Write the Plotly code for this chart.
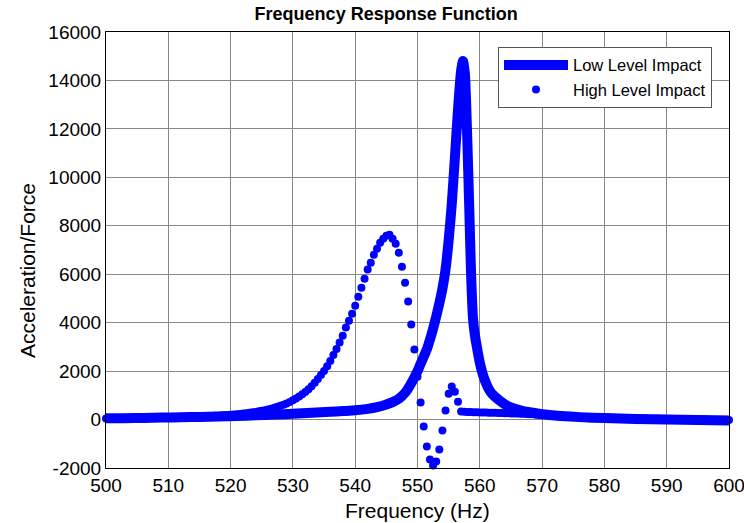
import numpy as np
import plotly.graph_objects as go

# ---------------- data ----------------
freq_low = [500, 503, 506, 509, 512, 515, 518, 521, 524, 527, 530, 533, 536, 538, 540,
            542, 543.5, 545, 546, 547, 548, 549, 550, 550.5, 551, 551.5, 552, 552.5,
            553, 553.5, 554, 554.5, 555, 555.5, 556, 556.5, 557, 557.3, 557.6, 558,
            558.3, 558.6, 558.9, 559.2, 559.6, 560, 560.5, 561, 561.5, 562, 563, 564,
            565, 566.5, 568, 570, 573, 576, 580, 585, 590, 595, 600]
resp_low = [50, 58, 68, 80, 95, 110, 130, 150, 175, 205, 240, 280, 320, 350, 380,
            440, 510, 620, 720, 860, 1100, 1500, 2000, 2300, 2600, 2900, 3300, 3750,
            4250, 4800, 5400, 6200, 7400, 8900, 10800, 12800, 14400, 14800, 14300, 11500,
            8800, 6000, 4200, 3500, 2900, 2350, 1850, 1500, 1230, 1050, 820, 630,
            500, 380, 300, 220, 150, 100, 60, 25, 5, -15, -35]

freq_high = [500.0 + 0.5 * i for i in range(201)]
resp_high = [
    40, 42, 43, 45, 46, 48, 50, 51, 53, 55,                 # 500.0 - 504.5
    57, 59, 61, 63, 65, 67, 70, 72, 75, 78,                 # 505.0 - 509.5
    81, 84, 87, 90, 94, 98, 102, 106, 110, 115,             # 510.0 - 514.5
    120, 126, 132, 138, 145, 152, 160, 168, 177, 187,       # 515.0 - 519.5
    197, 208, 220, 233, 247, 262, 279, 297, 317, 339,       # 520.0 - 524.5
    363, 389, 418, 450, 485, 524, 567, 615, 668, 727,       # 525.0 - 529.5
    800, 870, 950, 1040, 1140, 1250, 1375, 1515, 1670, 1840, # 530.0 - 534.5
    2000, 2200, 2420, 2660, 2910, 3180, 3460, 3800, 4080, 4370, # 535.0 - 539.5
    4700, 5070, 5440, 5810, 6190, 6470, 6800, 7050, 7300, 7460, # 540.0 - 544.5
    7590, 7630, 7460, 7260, 6890, 6310, 5650, 4870, 3920, 2890, # 545.0 - 549.5
    1770, 700, -290, -1110, -1650, -1900, -1730, -1240, -450, 370, # 550.0 - 554.5
    1070, 1360, 1150, 740, 330, 320, 315, 310, 305, 300,    # 555.0 - 559.5
    296, 292, 288, 284, 280, 276, 272, 268, 264, 260,       # 560.0 - 564.5
    255, 250, 245, 240, 235, 229, 223, 217, 211, 205,       # 565.0 - 569.5
    198, 191, 184, 177, 170, 163, 156, 149, 142, 135,       # 570.0 - 574.5
    128, 122, 116, 110, 105, 100, 95, 90, 86, 82,           # 575.0 - 579.5
    78, 74, 70, 67, 64, 61, 58, 55, 52, 50,                 # 580.0 - 584.5
    47, 45, 42, 40, 38, 35, 33, 31, 29, 27,                 # 585.0 - 589.5
    25, 23, 21, 19, 17, 15, 13, 11, 9, 7,                   # 590.0 - 594.5
    5, 3, 1, -1, -3, -5, -7, -9, -11, -13,                  # 595.0 - 599.5
    -15,                                                    # 600.0
]

x_ticks = [500, 510, 520, 530, 540, 550, 560, 570, 580, 590, 600]
y_ticks = [-2000, 0, 2000, 4000, 6000, 8000, 10000, 12000, 14000, 16000]

# ---------------- figure ----------------
blue = "#0000FF"
fig = go.Figure()
fig.add_trace(go.Scatter(
    x=freq_low, y=resp_low, mode="lines", name="Low Level Impact",
    line=dict(color=blue, width=10, shape="spline", smoothing=0.6),
))
fig.add_trace(go.Scatter(
    x=freq_high, y=resp_high, mode="markers", name="High Level Impact",
    marker=dict(color=blue, size=8, line=dict(width=0)), cliponaxis=False,
))

font_family = "Liberation Sans, Arial, sans-serif"
fig.update_layout(
    width=744, height=523,
    margin=dict(l=106, r=15, t=32, b=55),
    paper_bgcolor="white", plot_bgcolor="white",
    font=dict(family=font_family, color="black", size=19),
    title=dict(text="<b>Frequency Response Function</b>", x=0.519, xanchor="center",
               y=0.973, yanchor="middle", font=dict(size=18, family=font_family)),
    showlegend=True,
    legend=dict(x=0.9727, xanchor="right", y=0.966, yanchor="top",
                bgcolor="white", bordercolor="#555555", borderwidth=1,
                font=dict(size=16.5, family=font_family),
                itemwidth=64, tracegroupgap=0),
    annotations=[
        dict(text="Frequency (Hz)", xref="paper", yref="paper", x=0.5, y=-0.0986,
             xanchor="center", yanchor="middle", showarrow=False,
             font=dict(size=21, family=font_family)),
        dict(text="Acceleration/Force", xref="paper", yref="paper", x=-0.125, y=0.452,
             xanchor="center", yanchor="middle", textangle=-90, showarrow=False,
             font=dict(size=21, family=font_family)),
    ],
)
fig.update_xaxes(
    range=[500, 600], tickvals=x_ticks, ticktext=[str(v) for v in x_ticks],
    showgrid=True, gridcolor="#888888", gridwidth=1,
    showline=True, linecolor="black", linewidth=1, mirror=True,
    zeroline=False, ticks="", tickfont=dict(size=19), automargin=False,
    ticklabeloverflow="allow",
)
fig.update_yaxes(
    range=[-2000, 16000], tickvals=y_ticks, ticktext=[str(v) for v in y_ticks],
    showgrid=True, gridcolor="#888888", gridwidth=1,
    showline=True, linecolor="black", linewidth=1, mirror=True,
    zeroline=False, ticks="", tickfont=dict(size=19), automargin=False,
    ticklabeloverflow="allow",
)

fig.write_html("out.html")
